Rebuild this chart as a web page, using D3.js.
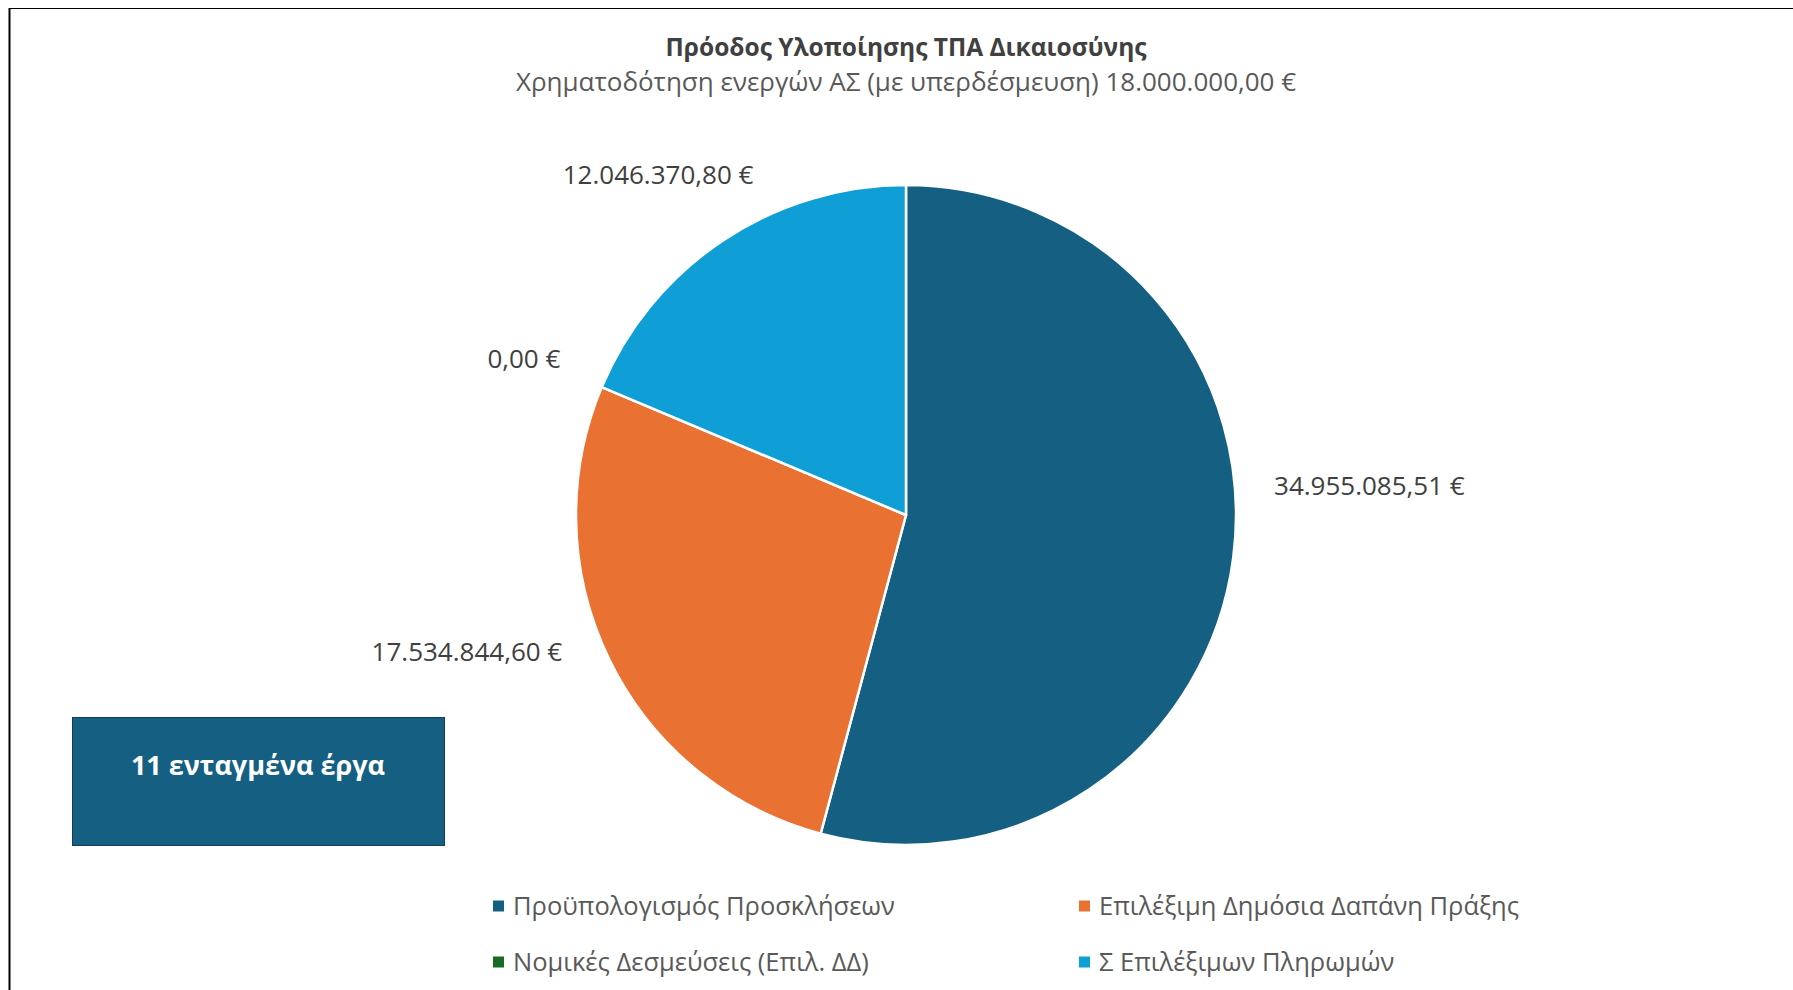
<!DOCTYPE html>
<html>
<head>
<meta charset="utf-8">
<script src="https://cdn.jsdelivr.net/npm/d3@7"></script>
<style>
  body { margin: 0; background: #fff; }
  text { font-family: "Open Sans", "Noto Sans", sans-serif; }
</style>
</head>
<body>
<script>
  const categories = [
    'Προϋπολογισμός Προσκλήσεων',
    'Επιλέξιμη Δημόσια Δαπάνη Πράξης',
    'Νομικές Δεσμεύσεις (Επιλ. ΔΔ)',
    'Σ Επιλέξιμων Πληρωμών'
  ];
  const values = [34955085.51, 17534844.60, 0, 12046370.80];
  const colors = ['#156082', '#E97132', '#196B24', '#0F9ED5'];

  const title = 'Πρόοδος Υλοποίησης ΤΠΑ Δικαιοσύνης';
  const subtitle = 'Χρηματοδότηση ενεργών ΑΣ (με υπερδέσμευση) 18.000.000,00 €';
  const boxText = '11 ενταγμένα έργα';

  const width = 1793;
  const height = 990;
  const cx = 906;
  const cy = 515;
  const radius = 330;

  // Excel moves a few labels off the mid angle; small nudges to follow it
  const labelNudge = [[-6, -80], [-14, -35], [0, -5], [14, -14]];

  const locale = d3.formatLocale({decimal: ',', thousands: '.', grouping: [3], currency: ['', ' €']});
  const fmt = locale.format('$,.2f');

  const svg = d3.select('body')
    .append('svg')
    .attr('width', width)
    .attr('height', height);

  // frame (only top and left edges visible in the crop)
  svg.append('line').attr('x1', 9).attr('x2', width).attr('y1', 8.5).attr('y2', 8.5)
    .attr('stroke', '#000').attr('stroke-width', 1);
  svg.append('line').attr('x1', 9.5).attr('x2', 9.5).attr('y1', 8).attr('y2', height)
    .attr('stroke', '#000').attr('stroke-width', 2);

  svg.append('text')
    .attr('x', cx).attr('y', 56)
    .attr('text-anchor', 'middle')
    .attr('font-size', 24.5).attr('font-weight', 'bold')
    .attr('fill', '#404040')
    .text(title);

  svg.append('text')
    .attr('x', cx).attr('y', 91)
    .attr('text-anchor', 'middle')
    .attr('font-size', 26)
    .attr('fill', '#595959')
    .text(subtitle);

  const pie = d3.pie().sort(null).value(d => d);
  const arc = d3.arc().innerRadius(0).outerRadius(radius);

  const g = svg.append('g').attr('transform', `translate(${cx}, ${cy})`);

  const arcs = pie(values);

  g.selectAll('path')
    .data(arcs)
    .enter()
    .append('path')
    .attr('d', arc)
    .attr('fill', (d, i) => colors[i])
    .attr('stroke', '#fff')
    .attr('stroke-width', 2.5)
    .attr('stroke-linejoin', 'round');

  // outside-end labels: push the label box out along the mid angle
  const gap = 48;
  g.selectAll('text.lbl')
    .data(arcs)
    .enter()
    .append('text')
    .attr('class', 'lbl')
    .attr('font-size', 26)
    .attr('fill', '#404040')
    .attr('text-anchor', 'middle')
    .attr('dy', '0.35em')
    .text(d => fmt(d.data))
    .each(function(d, i) {
      const box = this.getBBox();
      const mid = (d.startAngle + d.endAngle) / 2;
      const ux = Math.sin(mid);
      const uy = -Math.cos(mid);
      const x = ux * (radius + gap) + ux * box.width / 2 + labelNudge[i][0];
      const y = uy * (radius + gap) + uy * 13 + labelNudge[i][1];
      d3.select(this).attr('x', x).attr('y', y);
    });

  // info box
  svg.append('rect')
    .attr('x', 72.5).attr('y', 717.5)
    .attr('width', 372).attr('height', 128)
    .attr('fill', '#156082')
    .attr('stroke', '#0E3F56')
    .attr('stroke-width', 1);

  svg.append('text')
    .attr('x', 258).attr('y', 775)
    .attr('text-anchor', 'middle')
    .attr('font-size', 27).attr('font-weight', 'bold')
    .attr('fill', '#fff')
    .text(boxText);

  // legend, two columns
  const legend = svg.append('g');
  const cols = [493, 1079];
  const rows = [906, 962];
  const items = legend.selectAll('g')
    .data(categories)
    .enter()
    .append('g')
    .attr('transform', (d, i) => `translate(${cols[i % 2]}, ${rows[Math.floor(i / 2)]})`);

  items.append('rect')
    .attr('x', 0).attr('y', -5.5)
    .attr('width', 11).attr('height', 11)
    .attr('fill', (d, i) => colors[i]);

  items.append('text')
    .attr('x', 20).attr('dy', '0.35em')
    .attr('font-size', 25.5)
    .attr('fill', '#595959')
    .text(d => d);
</script>
</body>
</html>
